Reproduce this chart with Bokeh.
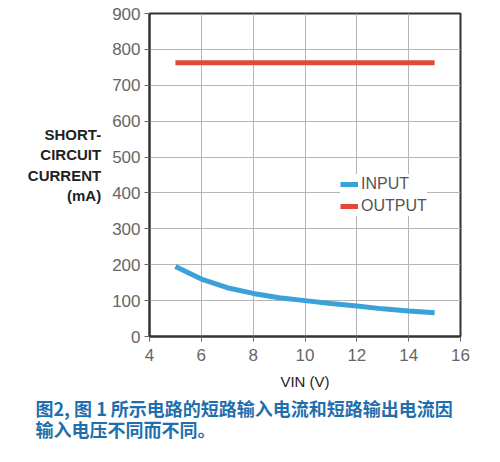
from bokeh.plotting import figure
from bokeh.models import Range1d, FixedTicker, Legend, LegendItem, Title
from bokeh.embed import file_html
from bokeh.resources import INLINE

# Data
vin = [5, 6, 7, 8, 9, 10, 11, 12, 13, 14, 15]
input_ma = [195, 160, 136, 120, 108, 100, 92, 85, 77, 71, 66]
output_vin = [5, 15]
output_ma = [763, 763]
x_ticks = [4, 6, 8, 10, 12, 14, 16]
y_ticks = [0, 100, 200, 300, 400, 500, 600, 700, 800, 900]
y_label = "SHORT-\nCIRCUIT\nCURRENT\n(mA)\n"
x_label = "VIN (V)"
caption = "图2, 图 1 所示电路的短路输入电流和短路输出电流因\n输入电压不同而不同。"

W, H = 492, 454
p = figure(width=W, height=H, output_backend="svg", toolbar_location=None,
           x_range=Range1d(4, 16), y_range=Range1d(0, 900),
           min_border_left=149, min_border_right=32, min_border_top=13, min_border_bottom=118)
p.background_fill_color = "white"
p.border_fill_color = "white"
p.outline_line_color = "#333333"
p.outline_line_width = 2

for ax in (p.xaxis[0], p.yaxis[0]):
    ax.major_label_text_font = "Liberation Sans"
    ax.major_label_text_font_size = "17px"
    ax.major_label_text_color = "#666666"
    ax.axis_line_color = "#333333"
    ax.axis_line_width = 2
    ax.major_tick_line_color = "#666666"
    ax.major_tick_out = 5
    ax.major_tick_in = 0
    ax.minor_tick_line_color = None
p.xaxis.ticker = FixedTicker(ticks=x_ticks)
p.yaxis.ticker = FixedTicker(ticks=y_ticks)
p.xaxis.major_label_standoff = 7
p.yaxis.major_label_standoff = 4

p.yaxis.axis_label = y_label
p.yaxis.axis_label_orientation = "horizontal"
p.yaxis.axis_label_text_align = "center"
p.yaxis.axis_label_text_font = "Liberation Sans Narrow, Liberation Sans"
p.yaxis.axis_label_text_font_style = "bold"
p.yaxis.axis_label_text_font_size = "15px"
p.yaxis.axis_label_text_color = "#222222"
p.yaxis.axis_label_standoff = 8

p.xaxis.axis_label = x_label
p.xaxis.axis_label_text_font = "Liberation Sans"
p.xaxis.axis_label_text_font_style = "normal"
p.xaxis.axis_label_text_font_size = "15px"
p.xaxis.axis_label_text_color = "#222222"
p.xaxis.axis_label_standoff = 9

p.xgrid.ticker = FixedTicker(ticks=x_ticks)
p.ygrid.ticker = FixedTicker(ticks=y_ticks)
p.grid.grid_line_color = "#b5b5b5"
p.grid.grid_line_width = 1

r_in = p.line(vin, input_ma, line_color="#3aa2d9", line_width=5)
r_out = p.line(output_vin, output_ma, line_color="#e2493b", line_width=5)

legend = Legend(items=[LegendItem(label="INPUT", renderers=[r_in]),
                       LegendItem(label="OUTPUT", renderers=[r_out])],
                location=(191, 120))
legend.label_text_font = "Liberation Sans"
legend.label_text_font_size = "16px"
legend.label_text_color = "#555555"
legend.glyph_width = 18
legend.glyph_height = 20
legend.label_standoff = 3
legend.spacing = 2
legend.padding = 4
legend.margin = 0
legend.border_line_color = None
legend.background_fill_color = "white"
legend.background_fill_alpha = 1
p.add_layout(legend, "center")

p.add_layout(Title(text=caption, align="left", offset=35 - 149, standoff=0,
                   text_font="Noto Sans CJK SC", text_font_style="bold",
                   text_line_height=0.83,
                   text_font_size="18px", text_color="#1f6fae"), "below")

open("out.html", "w").write(file_html(p, INLINE))
